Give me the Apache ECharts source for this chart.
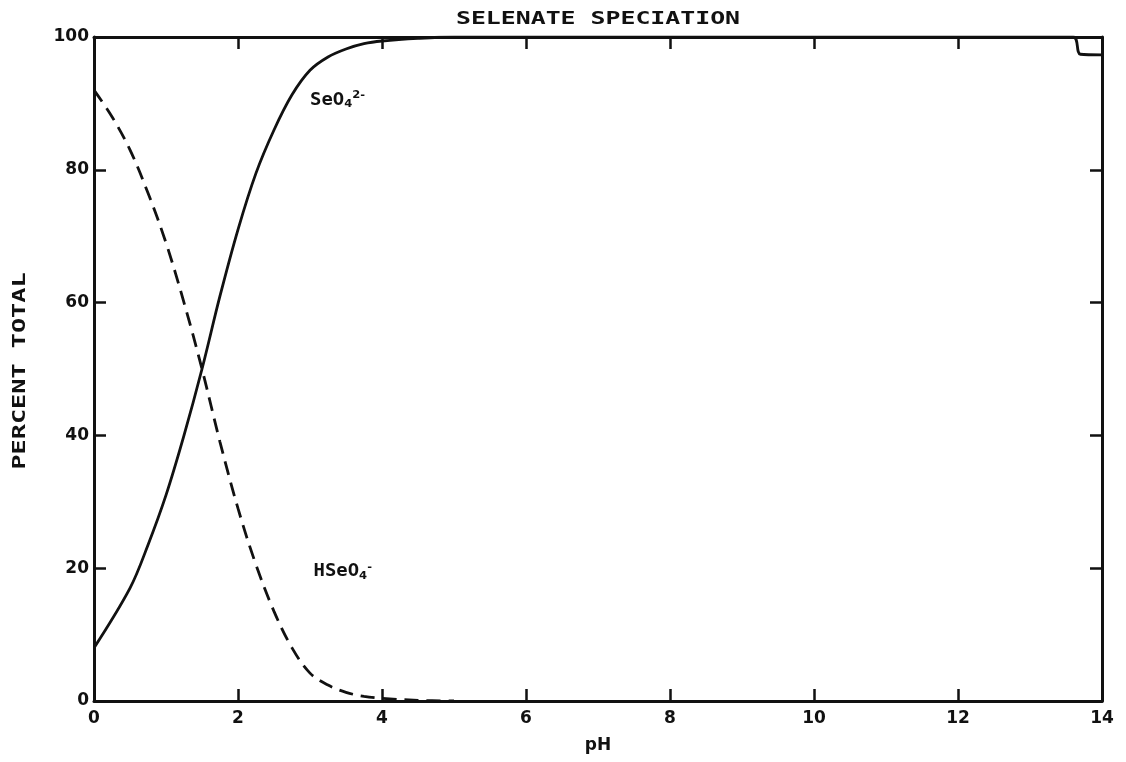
<!DOCTYPE html>
<html><head><meta charset="utf-8">
<script src="https://cdn.jsdelivr.net/npm/echarts@6/dist/echarts.min.js"></script>
<style>html,body{margin:0;padding:0;background:#fff}#c{width:1126px;height:762px}</style>
</head><body><div id="c"></div>
<script>
const titleText = 'SELENATE SPECIATION';
const xName = 'pH';
const yName = 'PERCENT TOTAL';
const xTicks = [0, 2, 4, 6, 8, 10, 12, 14];
const yTicks = [0, 20, 40, 60, 80, 100];
const pH_SeO4 = [0, 0.5, 0.75, 1, 1.25, 1.5, 1.75, 2, 2.25, 2.5, 2.75, 3, 3.25, 3.5, 3.75, 4, 4.5, 5, 6, 8, 10, 12, 13.6, 13.7, 14];
const SeO4 = [8, 17, 23.5, 31, 40, 50, 61, 71, 79.5, 86, 91.3, 95, 97, 98.2, 99, 99.4, 99.8, 100, 100, 100, 100, 100, 100, 97.4, 97.3];
const pH_HSeO4 = [0, 0.25, 0.5, 0.75, 1, 1.25, 1.5, 1.75, 2, 2.25, 2.5, 2.75, 3, 3.25, 3.5, 3.75, 4, 4.5, 5];
const HSeO4 = [92, 88, 83, 76.5, 69, 60, 50, 39, 29, 20.5, 13.5, 8, 4.2, 2.4, 1.3, 0.7, 0.4, 0.1, 0];
const labelSeO4 = 'SeO4 2-';
const labelHSeO4 = 'HSeO4 -';

const font = 'DejaVu Sans';
const mono = 'DejaVu Sans Mono';
const chart = echarts.init(document.getElementById('c'));
const axisCommon = {
  axisLine: {show: true, onZero: false, lineStyle: {color: '#111', width: 3}},
  axisTick: {show: true, inside: true, length: 12, lineStyle: {color: '#111', width: 2.5}},
  splitLine: {show: false}
};
chart.setOption({
  backgroundColor: '#fff',
  animation: false,
  grid: {left: 94, right: 24, top: 37, bottom: 61},
  xAxis: [
    Object.assign({type: 'value', min: 0, max: 14, interval: 2, position: 'bottom',
      name: xName, nameLocation: 'middle', nameGap: 36,
      nameTextStyle: {fontFamily: font, fontSize: 17, fontWeight: 'bold', color: '#111'},
      axisLabel: {fontFamily: font, fontSize: 17, fontWeight: 'bold', color: '#111', margin: 9,
        formatter: v => xTicks.includes(v) ? String(v) : ''}}, axisCommon),
    Object.assign({type: 'value', min: 0, max: 14, interval: 2, position: 'top', axisLabel: {show: false}}, axisCommon)
  ],
  yAxis: [
    Object.assign({type: 'value', min: 0, max: 100, interval: 20, position: 'left',
      axisLabel: {fontFamily: font, fontSize: 17, fontWeight: 'bold', color: '#111', margin: 5,
        formatter: v => yTicks.includes(v) ? String(v) : ''}}, axisCommon),
    Object.assign({type: 'value', min: 0, max: 100, interval: 20, position: 'right', axisLabel: {show: false}}, axisCommon)
  ],
  series: [
    {type: 'line', name: 'SeO4', data: pH_SeO4.map((x, i) => [x, SeO4[i]]), smooth: 0.35,
      showSymbol: false, lineStyle: {color: '#111', width: 2.8}},
    {type: 'line', name: 'HSeO4', data: pH_HSeO4.map((x, i) => [x, HSeO4[i]]), smooth: 0.35,
      showSymbol: false, lineStyle: {color: '#111', width: 2.8, type: [14, 8]}}
  ]
});
function richLabel(s) {
  const parts = s.split(' ');
  const m = parts[0].match(/^(.*?)(\d)$/);
  return '{b|' + m[1] + '}{sub|' + m[2] + '}{sup|' + parts[1] + '}';
}
const rich = {
  b: {fontFamily: mono, fontSize: 18, fontWeight: 'bold', fill: '#111'},
  sub: {fontFamily: font, fontSize: 11, fontWeight: 'bold', fill: '#111', verticalAlign: 'bottom', padding: [9, 0, 0, 0]},
  sup: {fontFamily: font, fontSize: 11, fontWeight: 'bold', fill: '#111', verticalAlign: 'top', padding: [0, 0, 9, 0]}
};
const p1 = chart.convertToPixel({xAxisIndex: 0, yAxisIndex: 0}, [3.0, 90.5]);
const p2 = chart.convertToPixel({xAxisIndex: 0, yAxisIndex: 0}, [3.05, 19.5]);
chart.setOption({graphic: [
  {type: 'text', x: 598, y: 19, scaleX: 1.38,
    style: {text: titleText, fontFamily: mono, fontSize: 18, fontWeight: 'bold', fill: '#111', align: 'center', verticalAlign: 'middle'}},
  {type: 'text', x: 20, y: 371, rotation: Math.PI / 2, scaleX: 1.4,
    style: {text: yName, fontFamily: mono, fontSize: 18, fontWeight: 'bold', fill: '#111', align: 'center', verticalAlign: 'middle'}},
  {type: 'text', x: p1[0], y: p1[1], scaleX: 1.05, style: {text: richLabel(labelSeO4), rich: rich, fill: '#111', verticalAlign: 'middle'}},
  {type: 'text', x: p2[0], y: p2[1], scaleX: 1.05, style: {text: richLabel(labelHSeO4), rich: rich, fill: '#111', verticalAlign: 'middle'}}
]});
</script></body></html>
